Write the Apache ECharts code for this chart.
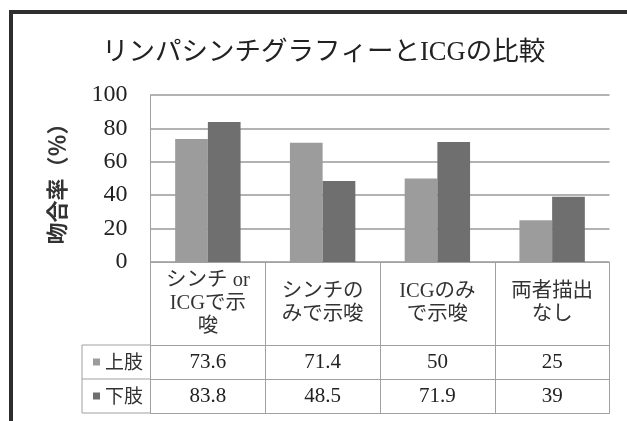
<!DOCTYPE html>
<html>
<head>
<meta charset="utf-8">
<script src="https://cdn.jsdelivr.net/npm/echarts@6/dist/echarts.min.js"></script>
<style>
  html, body { margin: 0; padding: 0; background: #fff; }
  #chart { width: 627px; height: 421px; }
</style>
</head>
<body>
<div id="chart"></div>
<script>
// Categories and values
const categories = ['シンチ or\nICGで示\n唆', 'シンチの\nみで示唆', 'ICGのみ\nで示唆', '両者描出\nなし'];
const upperLimb = [73.6, 71.4, 50, 25];
const lowerLimb = [83.8, 48.5, 71.9, 39];
const seriesNames = ['上肢', '下肢'];
const yMin = 0, yMax = 100, yStep = 20;

const SERIF = "'Liberation Serif', 'Noto Sans CJK JP', serif";
const SANS = "'Noto Sans CJK JP', sans-serif";
const LINE = '#a0a0a0';

// Layout of the plot and the data table beneath it
const W = 627, H = 421;
const gridLeft = 150.5, gridRight = 17.5, gridTop = 95, gridBottomY = 262;
const rowCat = 83, rowVal = 34;          // heights of the table rows
const legendColLeft = 82;

const chart = echarts.init(document.getElementById('chart'), null, { renderer: 'canvas' });

const rowTop1 = gridBottomY + rowCat;
const rowTop2 = rowTop1 + rowVal;
const rowBottom = rowTop2 + rowVal;

function valueAxis(offset, values) {
  return {
    type: 'category',
    data: categories,
    position: 'bottom',
    offset: offset,
    axisLine: { show: true, lineStyle: { color: LINE, width: 1 } },
    axisTick: { show: false },
    axisLabel: {
      show: values != null,
      interval: 0,
      margin: rowVal / 2,
      verticalAlign: 'middle',
      fontSize: 21,
      fontFamily: SERIF,
      color: '#222',
      formatter: (v, i) => values ? String(values[i]) : ''
    }
  };
}

const option = {
  backgroundColor: '#fff',
  animation: false,
  title: {
    text: 'リンパシンチグラフィーとICGの比較',
    left: 97,
    top: 35,
    textStyle: { fontSize: 26.5, fontWeight: 'normal', fontFamily: SERIF, color: '#222' }
  },
  legend: {
    data: seriesNames,
    orient: 'vertical',
    left: 88,
    top: rowTop1 + rowVal / 2 - 15,
    itemWidth: 7,
    itemHeight: 7,
    itemGap: rowVal - 20,
    icon: 'rect',
    selectedMode: false,
    textStyle: { fontSize: 19, lineHeight: 20, fontFamily: SANS, color: '#333' }
  },
  grid: {
    left: gridLeft,
    right: gridRight,
    top: gridTop,
    bottom: H - gridBottomY,
    containLabel: false
  },
  xAxis: [
    {
      type: 'category',
      data: categories,
      position: 'bottom',
      axisLine: { show: true, lineStyle: { color: LINE, width: 1 } },
      axisTick: {
        show: true,
        interval: 0,
        length: rowCat + 2 * rowVal,
        lineStyle: { color: LINE, width: 1 }
      },
      axisLabel: {
        interval: 0,
        margin: rowCat / 2,
        verticalAlign: 'middle',
        lineHeight: 23,
        fontSize: 20.5,
        fontFamily: SERIF,
        color: '#333'
      }
    },
    valueAxis(rowCat, upperLimb),
    valueAxis(rowCat + rowVal, lowerLimb),
    valueAxis(rowCat + 2 * rowVal, null)
  ],
  yAxis: {
    type: 'value',
    min: yMin,
    max: yMax,
    interval: yStep,
    name: '吻合率（％）',
    nameLocation: 'middle',
    nameGap: 83,
    nameTextStyle: { fontSize: 22, fontWeight: 'bold', fontFamily: SANS, color: '#333' },
    axisLine: { show: true, lineStyle: { color: LINE, width: 1 } },
    axisTick: { show: false },
    axisLabel: { margin: 23, fontSize: 24, fontFamily: SERIF, color: '#222' },
    splitLine: { show: true, lineStyle: { color: '#999', width: 1.5 } }
  },
  series: [
    {
      name: seriesNames[0],
      type: 'bar',
      data: upperLimb,
      barGap: '0%',
      barCategoryGap: '43%',
      itemStyle: { color: '#9c9c9c' }
    },
    {
      name: seriesNames[1],
      type: 'bar',
      data: lowerLimb,
      barGap: '0%',
      barCategoryGap: '43%',
      itemStyle: { color: '#6f6f6f' }
    }
  ],
  graphic: [
    // outer frame
    { type: 'rect', shape: { x: 9, y: 10, width: W - 9, height: 4 }, style: { fill: '#2e2e2e' }, silent: true },
    { type: 'rect', shape: { x: 9, y: 10, width: 4, height: H - 10 }, style: { fill: '#2e2e2e' }, silent: true },
    // legend column of the data table
    { type: 'line', shape: { x1: legendColLeft, y1: rowTop1, x2: legendColLeft, y2: rowBottom }, style: { stroke: LINE, lineWidth: 1 }, silent: true },
    { type: 'line', shape: { x1: legendColLeft, y1: rowTop1, x2: gridLeft, y2: rowTop1 }, style: { stroke: LINE, lineWidth: 1 }, silent: true },
    { type: 'line', shape: { x1: legendColLeft, y1: rowTop2, x2: gridLeft, y2: rowTop2 }, style: { stroke: LINE, lineWidth: 1 }, silent: true },
    { type: 'line', shape: { x1: legendColLeft, y1: rowBottom, x2: gridLeft, y2: rowBottom }, style: { stroke: LINE, lineWidth: 1 }, silent: true }
  ]
};

chart.setOption(option);
</script>
</body>
</html>
